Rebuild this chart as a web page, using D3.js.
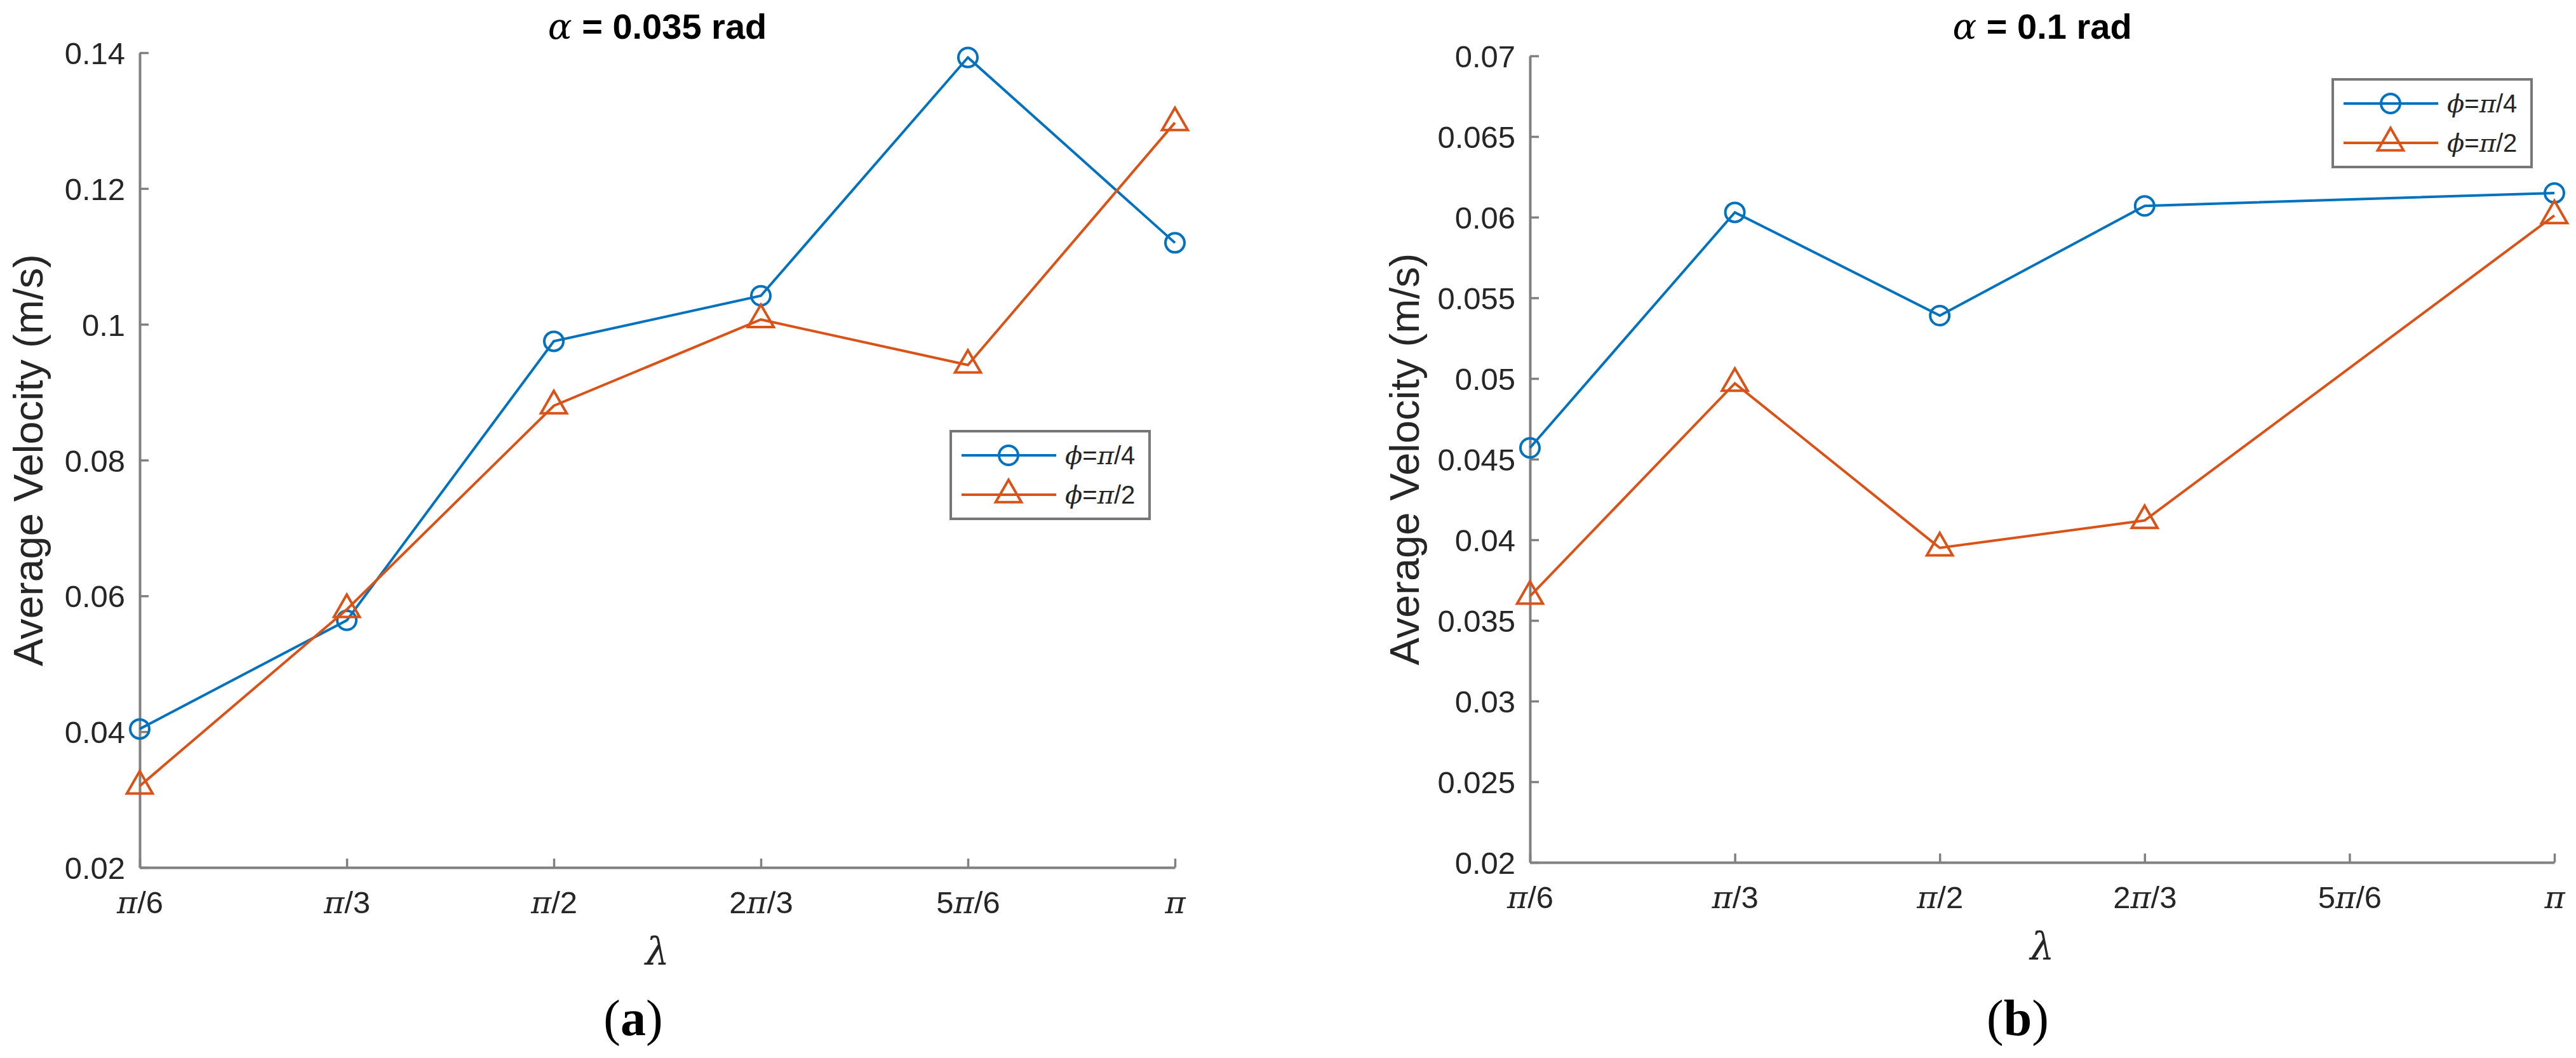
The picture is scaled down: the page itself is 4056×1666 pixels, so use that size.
<!DOCTYPE html>
<html>
<head>
<meta charset="utf-8">
<script src="https://cdn.jsdelivr.net/npm/d3@7"></script>
<style>
  html, body { margin: 0; padding: 0; background: #fff; }
  svg { display: block; }
</style>
</head>
<body>
<svg id="chart" width="4056" height="1666"></svg>
<script>
// ---------- data ----------
const categories = ["π/6", "π/3", "π/2", "2π/3", "5π/6", "π"];

const leftYTicks = [0.02, 0.04, 0.06, 0.08, 0.1, 0.12, 0.14];
const leftYTickLabels = ["0.02", "0.04", "0.06", "0.08", "0.1", "0.12", "0.14"];
const rightYTicks = [0.02, 0.025, 0.03, 0.035, 0.04, 0.045, 0.05, 0.055, 0.06, 0.065, 0.07];
const rightYTickLabels = ["0.02", "0.025", "0.03", "0.035", "0.04", "0.045", "0.05", "0.055", "0.06", "0.065", "0.07"];

// alpha = 0.035 rad
const leftPhiQuarter = [0.0404, 0.0564, 0.0975, 0.1042, 0.1393, 0.1120];
const leftPhiHalf    = [0.0320, 0.0580, 0.0880, 0.1007, 0.0940, 0.1297];
// alpha = 0.1 rad (no value at 5π/6)
const rightPhiQuarter = [0.0457, 0.0603, 0.0539, 0.0607, null, 0.0615];
const rightPhiHalf    = [0.0365, 0.0497, 0.0395, 0.0412, null, 0.0601];

const seriesNames = ["ϕ=π/4", "ϕ=π/2"];
const titles = ["0.035 rad", "0.1 rad"];
const captions = ["a", "b"];
const yLabel = "Average Velocity (m/s)";
const xLabel = "λ";

// ---------- style ----------
const BLUE = "#0072BD", ORANGE = "#D95319";
const AXIS = "#808080", TEXT = "#262626";
const SANS = "'Liberation Sans', Arial, Helvetica, sans-serif";
const SERIF = "'Liberation Serif', 'Times New Roman', serif";
const MATH = "'DejaVu Serif', 'Liberation Serif', serif";

const svg = d3.select("#chart");
svg.append("rect").attr("width", 4056).attr("height", 1666).attr("fill", "#fff");

const panels = [
  { x0: 220, x1: 1850, y0: 83, y1: 1366, dom: [0.02, 0.14], ticks: leftYTicks, tickLabels: leftYTickLabels,
    s: [leftPhiQuarter, leftPhiHalf], legend: [1497, 679], yLabX: 67, capX: 997, title: titles[0], cap: captions[0] },
  { x0: 2409, x1: 4022, y0: 88, y1: 1358, dom: [0.02, 0.07], ticks: rightYTicks, tickLabels: rightYTickLabels,
    s: [rightPhiQuarter, rightPhiHalf], legend: [3673, 125], yLabX: 2234, capX: 3177, title: titles[1], cap: captions[1] }
];

const colors = [BLUE, ORANGE];
const symbols = [d3.symbol(d3.symbolCircle, 707), d3.symbol(d3.symbolTriangle, 711)];

// render text containing π / ϕ with those glyphs italic
function mathText(sel, str) {
  const parts = str.split(/([πϕλα])/);
  parts.forEach(p => {
    if (!p) return;
    const t = sel.append("tspan").text(p);
    if ("πϕλα".includes(p)) t.attr("font-family", MATH).attr("font-style", "italic");
  });
}

panels.forEach(P => {
  const x = d3.scalePoint().domain(categories).range([P.x0, P.x1]).padding(0);
  const y = d3.scaleLinear().domain(P.dom).range([P.y1, P.y0]);
  const g = svg.append("g");

  // x axis
  const xa = g.append("g").attr("transform", `translate(0,${P.y1})`)
    .call(d3.axisBottom(x).tickSizeInner(-14).tickSizeOuter(0));
  xa.selectAll("text").remove();
  xa.selectAll(".tick").append("text")
    .attr("y", 72).attr("fill", TEXT).attr("text-anchor", "middle")
    .attr("font-family", SANS).attr("font-size", 49)
    .each(function(d) { mathText(d3.select(this), d); });

  // y axis
  const ya = g.append("g").attr("transform", `translate(${P.x0},0)`)
    .call(d3.axisLeft(y).tickValues(P.ticks).tickSizeInner(-14).tickSizeOuter(0)
      .tickFormat((d, i) => P.tickLabels[i]));
  ya.selectAll("text").attr("x", -23).attr("dy", "0.36em").attr("fill", TEXT)
    .attr("font-family", SANS).attr("font-size", 49);

  [xa, ya].forEach(a => {
    a.attr("font-family", SANS);
    a.select(".domain").attr("stroke", AXIS).attr("stroke-width", 4);
    a.selectAll(".tick line").attr("stroke", AXIS).attr("stroke-width", 3.5);
  });

  // series
  P.s.forEach((vals, si) => {
    const pts = categories.map((c, i) => ({ c, v: vals[i] })).filter(d => d.v != null);
    g.append("path").datum(pts)
      .attr("fill", "none").attr("stroke", colors[si]).attr("stroke-width", 4)
      .attr("d", d3.line().x(d => x(d.c)).y(d => y(d.v)));
    g.selectAll(null).data(pts).enter().append("path")
      .attr("transform", d => `translate(${x(d.c)},${y(d.v)})`)
      .attr("d", symbols[si]())
      .attr("fill", "none").attr("stroke", colors[si]).attr("stroke-width", 4);
  });

  // title
  const tt = g.append("text").attr("x", (P.x0 + P.x1) / 2).attr("y", 61)
    .attr("text-anchor", "middle").attr("font-family", SANS).attr("font-size", 56)
    .attr("font-weight", "bold").attr("fill", "#000");
  tt.append("tspan").attr("font-family", MATH).attr("font-style", "italic").attr("font-weight", "normal").text("α");
  tt.append("tspan").text(" = " + P.title);

  // axis labels
  g.append("text").attr("transform", `translate(${P.yLabX},${(P.y0 + P.y1) / 2}) rotate(-90)`)
    .attr("text-anchor", "middle").attr("font-family", SANS).attr("font-size", 65)
    .attr("fill", TEXT).text(yLabel);
  g.append("text").attr("x", (P.x0 + P.x1) / 2).attr("y", P.y1 + 153)
    .attr("text-anchor", "middle").attr("font-family", MATH).attr("font-style", "italic")
    .attr("font-size", 60).attr("fill", TEXT).text(xLabel);

  // legend
  const [lx, ly] = P.legend;
  const lg = g.append("g").attr("transform", `translate(${lx},${ly})`);
  lg.append("rect").attr("width", 313).attr("height", 138)
    .attr("fill", "#fff").attr("stroke", "#777").attr("stroke-width", 4);
  seriesNames.forEach((name, si) => {
    const ry = si === 0 ? 38 : 100;
    lg.append("line").attr("x1", 17).attr("x2", 166).attr("y1", ry).attr("y2", ry)
      .attr("stroke", colors[si]).attr("stroke-width", 4);
    lg.append("path").attr("transform", `translate(91,${ry})`).attr("d", symbols[si]())
      .attr("fill", "none").attr("stroke", colors[si]).attr("stroke-width", 4);
    const lt = lg.append("text").attr("x", 180).attr("y", ry + 14)
      .attr("font-family", SANS).attr("font-size", 40).attr("fill", TEXT);
    mathText(lt, name);
  });

  // caption
  const ct = svg.append("text").attr("x", P.capX).attr("y", 1630).attr("text-anchor", "middle")
    .attr("font-family", SERIF).attr("font-size", 80).attr("fill", "#000");
  ct.append("tspan").text("(");
  ct.append("tspan").attr("font-weight", "bold").text(P.cap);
  ct.append("tspan").text(")");
});
</script>
</body>
</html>
